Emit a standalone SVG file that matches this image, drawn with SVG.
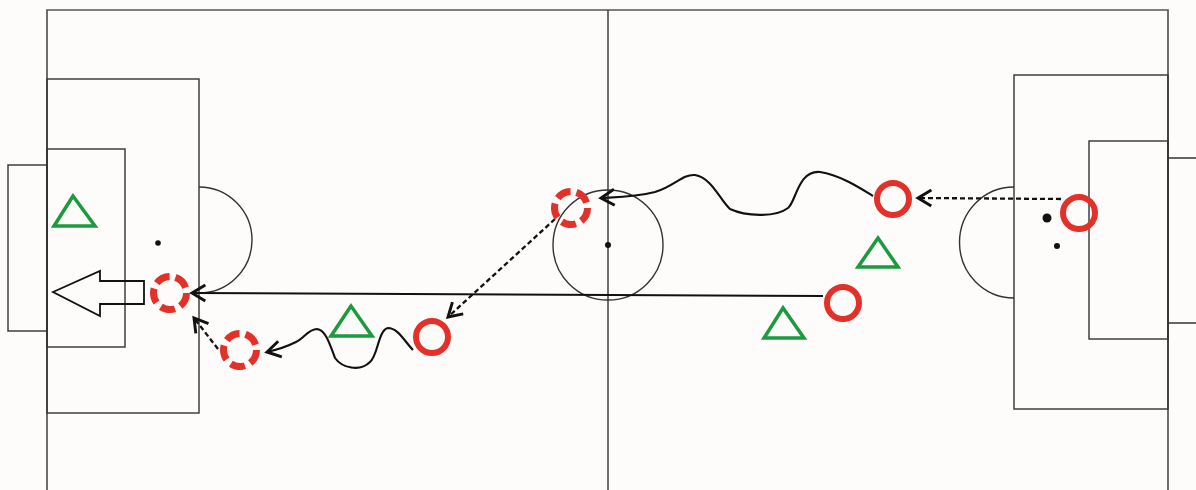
<svg xmlns="http://www.w3.org/2000/svg" width="1196" height="490" viewBox="0 0 1196 490">
<defs>
<style>
.field{fill:none;stroke:#333;stroke-width:1.4}
.border{fill:none;stroke:#555;stroke-width:1.7}
.player{fill:none;stroke:#e3312a;stroke-width:6}
.ghost{fill:none;stroke:#e3312a;stroke-width:7;stroke-dasharray:14.7 6}
.cone{fill:none;stroke:#1b9a3e;stroke-width:3.5;stroke-linejoin:miter}
.run{fill:none;stroke:#111;stroke-width:2.1;marker-end:url(#ah)}
.pass{fill:none;stroke:#111;stroke-width:2.3;stroke-dasharray:5 3;marker-end:url(#ah)}
.dot{fill:#111}
</style>
<marker id="ah" markerUnits="userSpaceOnUse" markerWidth="24" markerHeight="24" viewBox="-14 -9 18 18" refX="0" refY="0" orient="auto">
<path d="M-10,-6 L0,0 L-10,6" fill="none" stroke="#111" stroke-width="2.2"/>
</marker>
</defs>
<rect width="1196" height="490" fill="#fdfcfa"/>
<g id="pitch">
<path class="border" d="M47,490 V10 H1168 V490"/>
<line class="field" x1="608" y1="10" x2="608" y2="490"/>
<circle class="field" cx="608" cy="245" r="55"/>
<circle class="dot" cx="608" cy="245" r="3"/>
<rect class="field" x="47" y="79" width="152" height="334"/>
<rect class="field" x="47" y="149" width="78" height="198"/>
<rect class="field" x="8" y="165" width="39" height="166"/>
<path class="field" d="M199,187 A53,53 0 0 1 199,293"/>
<circle class="dot" cx="158" cy="243" r="2.8"/>
<rect class="field" x="1014" y="75" width="154" height="334"/>
<rect class="field" x="1089" y="141" width="79" height="198"/>
<path class="field" d="M1196,158 H1168 M1168,323 H1196"/>
<path class="field" d="M1014,187 A54,55 0 0 0 1014,298"/>
<circle class="dot" cx="1047" cy="218" r="4.5"/>
<circle class="dot" cx="1057" cy="246" r="3"/>
</g>
<g id="connectors">
<path class="pass" d="M1061,199 L918,198"/>
<path class="run" d="M873,196 C860,188 840,175 820,172 C798,170 796,202 788,208 C775,218 745,216 730,209 C720,200 712,178 695,175 C682,174 675,186 655,192 C635,197 620,197 601,198"/>
<path class="pass" d="M555,219 L448,317"/>
<path class="run" d="M413,350 C405,342 398,328 388,328 C378,330 378,356 370,362 C360,372 342,368 335,358 C330,345 326,330 317,329 C308,329 305,338 296,342 C288,346 280,349 267,352"/>
<path class="run" d="M823,296 L192,293"/>
<path class="pass" d="M218,349 L194,318"/>
</g>
<g id="big-arrow">
<polygon points="53,292 100,271 100,281 144,281 144,304 100,304 100,316" fill="none" stroke="#111" stroke-width="1.8" stroke-linejoin="miter"/>
</g>
<g id="player-right-gk"><circle class="player" cx="1079" cy="213" r="16"/></g>
<g id="player-top"><circle class="player" cx="893" cy="199" r="16"/></g>
<g id="player-mid"><circle class="player" cx="843" cy="303" r="16"/></g>
<g id="player-left"><circle class="player" cx="432" cy="337" r="16"/></g>
<g id="ghost-center"><circle class="ghost" cx="571" cy="208" r="16.5"/></g>
<g id="ghost-low"><circle class="ghost" cx="240" cy="350" r="16.5"/></g>
<g id="ghost-box"><circle class="ghost" cx="170" cy="293" r="16.5"/></g>
<g id="cone-1"><polygon class="cone" points="73,196 54,226 95,226"/></g>
<g id="cone-2"><polygon class="cone" points="351,306 331,336 372,336"/></g>
<g id="cone-3"><polygon class="cone" points="783,308 764,338 804,338"/></g>
<g id="cone-4"><polygon class="cone" points="878,238 858,267 898,267"/></g>
</svg>
